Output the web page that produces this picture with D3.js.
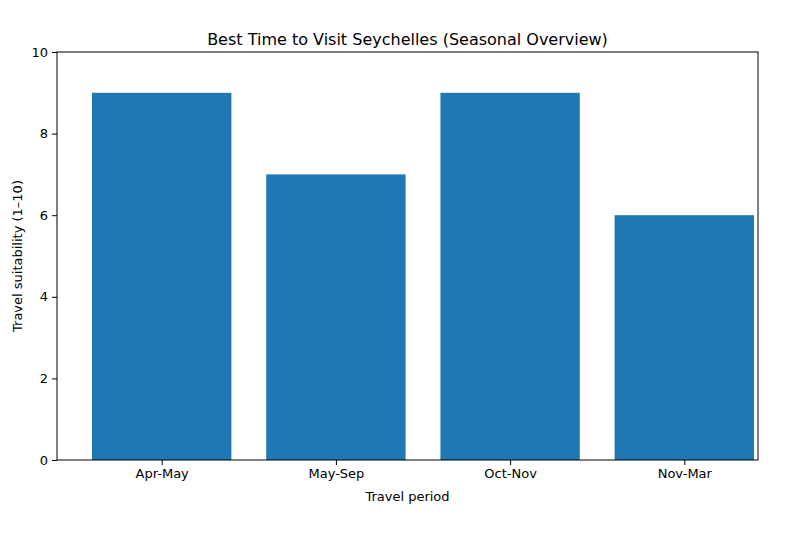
<!DOCTYPE html>
<html><head><meta charset="utf-8">
<script src="https://cdn.jsdelivr.net/npm/d3@7"></script>
<style>body{margin:0;background:#fff}svg{font-family:"DejaVu Sans",sans-serif}</style>
</head><body><svg id="c" width="800" height="533"></svg>
<script>
const categories = ["Apr-May","May-Sep","Oct-Nov","Nov-Mar"];
const values = [9,7,9,6];
const yTicks = [0,2,4,6,8,10];
const title = "Best Time to Visit Seychelles (Seasonal Overview)";
const xLabel = "Travel period";
const yLabel = "Travel suitability (1–10)";

const svg = d3.select("#c");
const L=57,R=758,T=52,B=460;
const x = d3.scaleLinear().domain([-0.601,3.423]).range([L,R]);
const y = d3.scaleLinear().domain([0,10]).range([B,T]);
const bw = x(0.8)-x(0);

svg.selectAll("rect.bar").data(values).enter().append("rect")
  .attr("x",(d,i)=>x(i-0.4)).attr("width",bw)
  .attr("y",d=>y(d)).attr("height",d=>B-y(d)).attr("fill","#1f77b4");

svg.append("rect").attr("x",L).attr("y",T).attr("width",R-L).attr("height",B-T)
  .attr("fill","none").attr("stroke","#000").attr("stroke-width",1);

const xa = svg.append("g").attr("transform",`translate(0,${B})`)
  .call(d3.axisBottom(x).tickValues(d3.range(categories.length)).tickFormat(i=>categories[i]).tickSizeOuter(0).tickSize(5).tickPadding(4));
const ya = svg.append("g").attr("transform",`translate(${L},0)`)
  .call(d3.axisLeft(y).tickValues(yTicks).tickSizeOuter(0).tickSize(5).tickPadding(4));
[xa,ya].forEach(a=>{a.select(".domain").remove();a.selectAll("text").attr("font-size",13).attr("fill","#000").attr("font-family","DejaVu Sans");});

svg.append("text").attr("x",(L+R)/2).attr("y",T-7).attr("text-anchor","middle").attr("font-size",16).text(title);
svg.append("text").attr("x",(L+R)/2).attr("y",501).attr("text-anchor","middle").attr("font-size",13).text(xLabel);
svg.append("text").attr("transform",`translate(22,${(T+B)/2}) rotate(-90)`).attr("text-anchor","middle").attr("font-size",13).text(yLabel);
</script></body></html>
